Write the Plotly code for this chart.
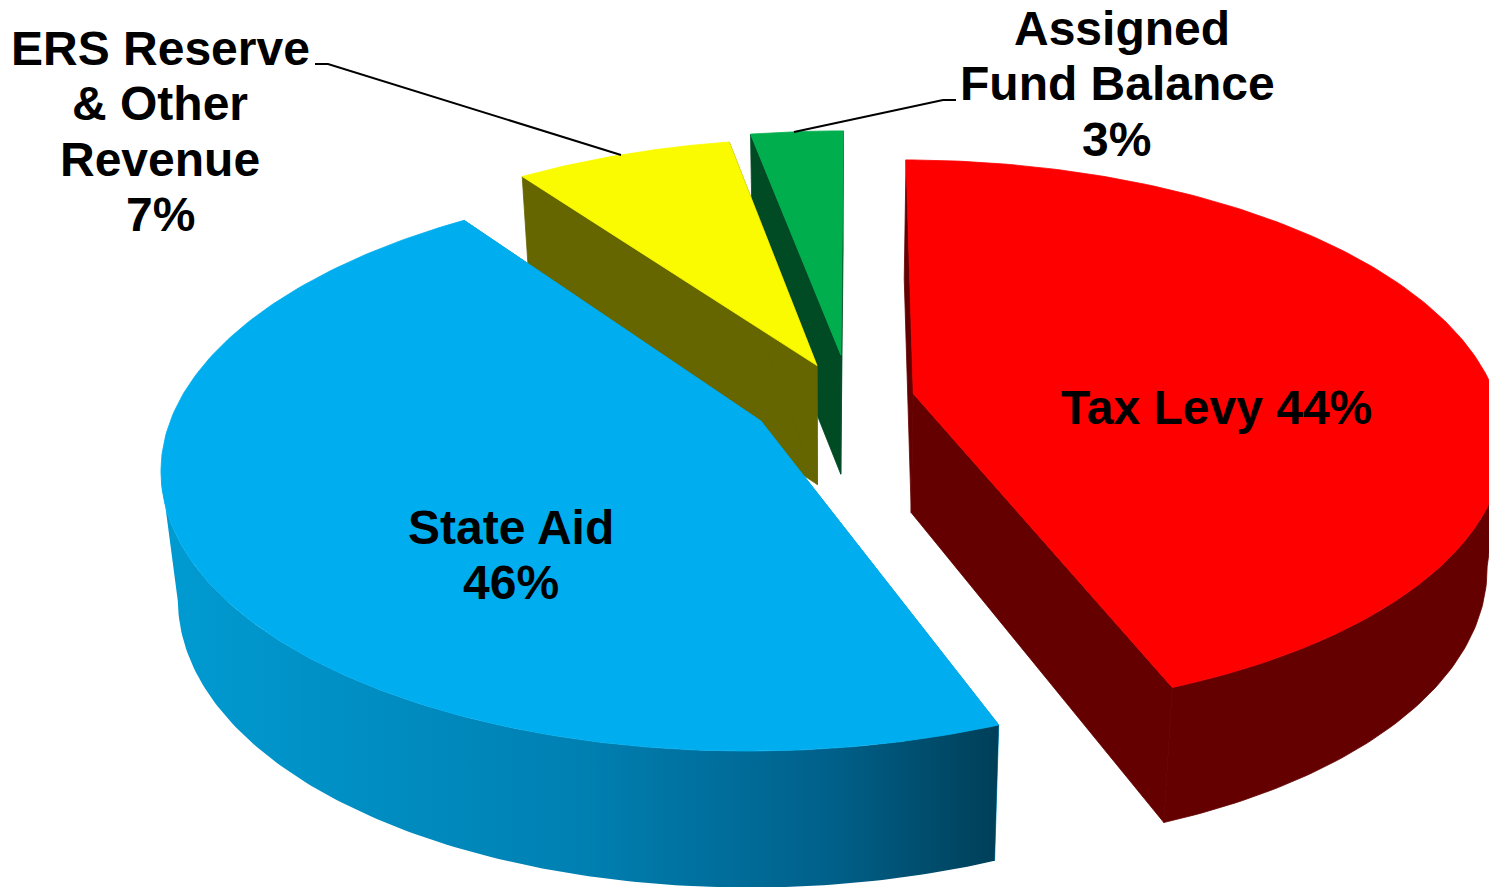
import numpy as np
import plotly.graph_objects as go

# Revenue shares, clockwise from twelve o'clock
categories = ["Tax Levy", "State Aid", "ERS Reserve & Other Revenue", "Assigned Fund Balance"]
shares = [44, 46, 7, 3]

top_colors = ["#FF0000", "#00AEEF", "#FAFA00", "#00AE4D"]
side_colors = ["#640000", "#0090C4", "#666600", "#004A24"]
wall_gradient = [[0.0, "#009BD2"], [0.5, "#0080B2"], [0.8, "#00608A"], [1.0, "#003F58"]]

# Offset of each slice from the pie centre, in pie radii (right, away from viewer)
explode_x = [0.138, -0.122, -0.028, 0.014]
explode_y = [0.038, -0.062, 0.144, 0.184]

# Pie projection: centre on the page, scale, perspective and thickness
CX, CY = 833.0, 404.0
SCALE_X, SCALE_Y = 585.0, 273.0
PERSPECTIVE = 0.155
THICKNESS = 119.0
THICKNESS_NEAR = 17.0
BASE_SHRINK = 0.975
START_ANGLE = 0.4


def project(x, y, bottom=False):
    x, y = np.asarray(x, float), np.asarray(y, float)
    w = 1 + PERSPECTIVE * y
    px = SCALE_X * x / w
    py = CY - SCALE_Y * y / w
    if bottom:
        px = px * BASE_SHRINK
        py = py + THICKNESS + THICKNESS_NEAR * np.sqrt(np.maximum(-y, 0))
    return CX + px, py


def polygon(xs, ys, color=None, gradient=None):
    kw = dict(fillgradient=gradient, line=dict(width=0)) if gradient else dict(
        fillcolor=color, line=dict(width=0.8, color=color))
    return go.Scatter(x=list(xs) + [xs[0]], y=list(ys) + [ys[0]], mode="lines", fill="toself",
                      hoverinfo="skip", showlegend=False, **kw)


def visible_wall(tx, ty, bx, by):
    """Outline of the part of the rim facing the viewer, cut at the silhouette."""
    if 0 < np.argmax(tx) < len(tx) - 1:
        t, b = np.argmax(tx), np.argmax(bx)
        return np.r_[tx[t:], bx[b:][::-1]], np.r_[ty[t:], by[b:][::-1]]
    if 0 < np.argmin(tx) < len(tx) - 1:
        t, b = np.argmin(tx), np.argmin(bx)
        return np.r_[tx[:t + 1], bx[:b + 1][::-1]], np.r_[ty[:t + 1], by[:b + 1][::-1]]
    return None


edges = np.radians(np.concatenate([[0], np.cumsum(shares)]) * 360 / sum(shares) + START_ANGLE)
slices = []
for i in range(len(shares)):
    theta = np.linspace(edges[i], edges[i + 1], 200)
    ax, ay = explode_x[i], explode_y[i]
    rx, ry = ax + np.sin(theta), ay + np.cos(theta)

    tx, ty = project(rx, ry)
    bx, by = project(rx, ry, bottom=True)
    apx, apy = project(ax, ay)
    abx, aby = project(ax, ay, bottom=True)

    traces = []
    # Radial cut faces
    for k in (0, -1):
        traces.append(polygon([tx[k], float(apx), float(abx), bx[k]],
                              [ty[k], float(apy), float(aby), by[k]], side_colors[i]))
    # Rim of the slice
    wall = visible_wall(tx, ty, bx, by)
    if wall is not None:
        if categories[i] == "State Aid":
            traces.append(polygon(*wall, gradient=dict(type="horizontal", colorscale=wall_gradient)))
        else:
            traces.append(polygon(*wall, color=side_colors[i]))
    # Top face
    traces.append(polygon(np.concatenate([[apx], tx]), np.concatenate([[apy], ty]), top_colors[i]))
    slices.append(traces)

fig = go.Figure()
# Painted back to front so nearer slices hide what lies behind them
for i in (3, 2, 1, 0):
    fig.add_traces(slices[i])

# Leader lines from the outer labels to their slices
leaders = [([315, 328, 621], [64, 64, 155]), ([956, 943, 794], [100, 100, 132])]
for lx, ly in leaders:
    fig.add_trace(go.Scatter(x=lx, y=ly, mode="lines", line=dict(color="black", width=2),
                             hoverinfo="skip", showlegend=False))

label_lines = [
    ("ERS Reserve", 160, 48), ("& Other", 160, 103), ("Revenue", 160, 159), ("7%", 160, 214),
    ("Assigned", 1122, 28), ("Fund Balance", 1117, 83), ("3%", 1116, 139),
    ("State Aid", 511, 527), ("46%", 511, 582),
    ("Tax Levy 44%", 1216, 407),
]
for text, x, y in label_lines:
    fig.add_annotation(x=x, y=y, text=f"<b>{text}</b>", showarrow=False,
                       xanchor="center", yanchor="middle",
                       font=dict(family="Liberation Sans", size=48, color="black"))

fig.update_layout(
    width=1489, height=887, margin=dict(l=0, r=0, t=0, b=0),
    paper_bgcolor="white", plot_bgcolor="white",
    xaxis=dict(range=[0, 1489], visible=False, fixedrange=True),
    yaxis=dict(range=[887, 0], visible=False, fixedrange=True),
)
fig.write_html("out.html", config=dict(displayModeBar=False))
